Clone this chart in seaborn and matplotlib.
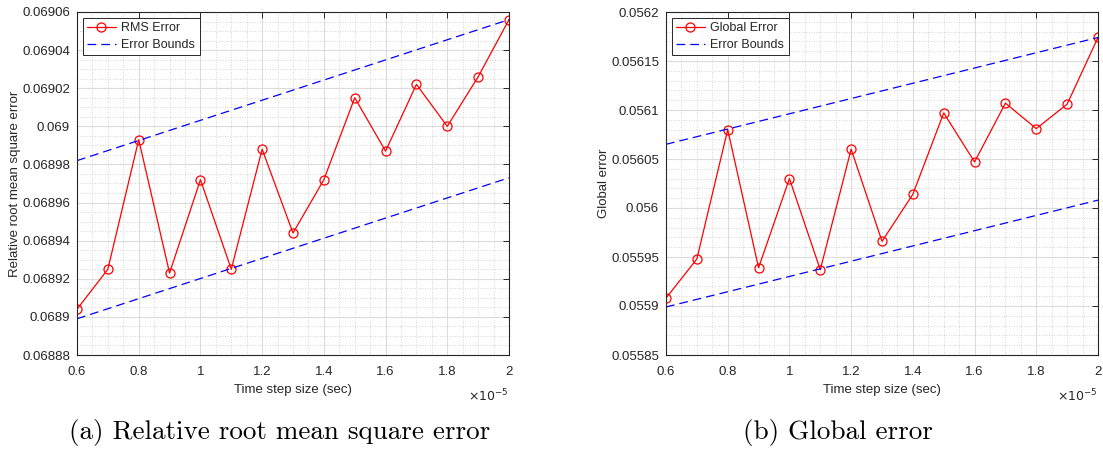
import numpy as np
import pandas as pd
import matplotlib
matplotlib.use("Agg")
import matplotlib.pyplot as plt
import seaborn as sns
from matplotlib.ticker import MultipleLocator, FuncFormatter, AutoMinorLocator

# ---- data ----
time_step = [0.6e-5, 0.7e-5, 0.8e-5, 0.9e-5, 1.0e-5, 1.1e-5, 1.2e-5, 1.3e-5,
             1.4e-5, 1.5e-5, 1.6e-5, 1.7e-5, 1.8e-5, 1.9e-5, 2.0e-5]
rms_error = [0.068904, 0.068925, 0.068993, 0.068923, 0.068972, 0.068925, 0.068988,
             0.068944, 0.068972, 0.069015, 0.068987, 0.069022, 0.069000, 0.069026,
             0.069056]
global_error = [0.055908, 0.055948, 0.056080, 0.055939, 0.056030, 0.055937, 0.056060,
                0.055966, 0.056014, 0.056097, 0.056047, 0.056107, 0.056081, 0.056106,
                0.056174]
bound_x = [0.6e-5, 2.0e-5]
rms_upper = [0.068982, 0.069056]
rms_lower = [0.068899, 0.068973]
glob_upper = [0.056065, 0.056174]
glob_lower = [0.055899, 0.056008]

x_ticks = [0.6e-5, 0.8e-5, 1.0e-5, 1.2e-5, 1.4e-5, 1.6e-5, 1.8e-5, 2.0e-5]
rms_yticks = [0.06888, 0.0689, 0.06892, 0.06894, 0.06896, 0.06898, 0.069,
              0.06902, 0.06904, 0.06906]
glob_yticks = [0.05585, 0.0559, 0.05595, 0.056, 0.05605, 0.0561, 0.05615, 0.0562]

sns.set_style("white")
plt.rcParams['font.family'] = ['Liberation Sans', 'DejaVu Sans']

W, H = 1103, 450
fig = plt.figure(figsize=(W / 100, H / 100), dpi=100)

axc = '#262626'

def make_panel(left_px, right_px, y, upper, lower, yticks, yminor, ylabel, label, caption, cap_x):
    ax = fig.add_axes([left_px / W, 1 - 355 / H, (right_px - left_px) / W, (355 - 12) / H])
    df = pd.DataFrame({'x': time_step, 'y': y})
    sns.lineplot(data=df, x='x', y='y', ax=ax, color='#ff0000', lw=0.9,
                 marker='o', markersize=6.5, markerfacecolor='none',
                 markeredgecolor='#ff0000', markeredgewidth=0.9, label=label)
    dfu = pd.DataFrame({'x': bound_x, 'y': upper})
    dfl = pd.DataFrame({'x': bound_x, 'y': lower})
    sns.lineplot(data=dfu, x='x', y='y', ax=ax, color='#0000ff', lw=0.9,
                 dashes=False, label='Error Bounds')
    ax.lines[-1].set_dashes([7, 4])
    sns.lineplot(data=dfl, x='x', y='y', ax=ax, color='#0000ff', lw=0.9,
                 legend=False)
    ax.lines[-1].set_dashes([7, 4])

    ax.set_xlim(0.6e-5, 2.0e-5)
    ax.set_ylim(yticks[0], yticks[-1])
    ax.set_xticks(x_ticks)
    ax.set_yticks(yticks)
    ax.xaxis.set_major_formatter(FuncFormatter(lambda v, p: '%g' % round(v / 1e-5, 6)))
    ax.yaxis.set_major_formatter(FuncFormatter(lambda v, p: '%g' % round(v, 8)))
    ax.xaxis.set_minor_locator(MultipleLocator(0.05e-5))
    ax.yaxis.set_minor_locator(AutoMinorLocator(yminor))

    ax.grid(True, which='major', color='#dcdcdc', lw=0.8, ls='-')
    ax.grid(True, which='minor', color='#c8c8c8', lw=0.6, ls=(0, (1, 2)))
    ax.set_axisbelow(True)
    ax.tick_params(which='major', direction='in', length=4, width=0.7, colors=axc,
                   labelsize=9.5, top=True, right=True, labelcolor=axc)
    ax.tick_params(axis='x', which='major', pad=8)
    ax.tick_params(axis='y', which='major', pad=5)
    ax.tick_params(which='minor', length=0)
    for s in ax.spines.values():
        s.set_color(axc)
        s.set_linewidth(0.8)
    ax.set_xlabel('Time step size (sec)', fontsize=9.5, color=axc, labelpad=4)
    ax.set_ylabel(ylabel, fontsize=9.5, color=axc, labelpad=1)
    ax.text(1.0, -0.095, r'$\times10^{-5}$', transform=ax.transAxes, ha='right',
            va='top', fontsize=9, color=axc)
    leg = ax.legend(loc='upper left', fontsize=9, frameon=True, fancybox=False,
                    edgecolor=axc, framealpha=1, borderaxespad=0.45,
                    handlelength=2.3, handletextpad=0.45, borderpad=0.35,
                    labelspacing=0.4)
    leg.get_frame().set_linewidth(0.7)
    fig.text(cap_x / W, 1 - 432 / H, caption, fontsize=19.5, family='cmr10',
             ha='center', va='center', color='black')
    return ax

make_panel(77, 509, rms_error, rms_upper, rms_lower, rms_yticks, 4,
           'Relative root mean square error', 'RMS Error',
           '(a) Relative root mean square error', 280)
make_panel(666, 1098, global_error, glob_upper, glob_lower, glob_yticks, 5,
           'Global error', 'Global Error', '(b) Global error', 838)

fig.savefig('out.png', dpi=100)
